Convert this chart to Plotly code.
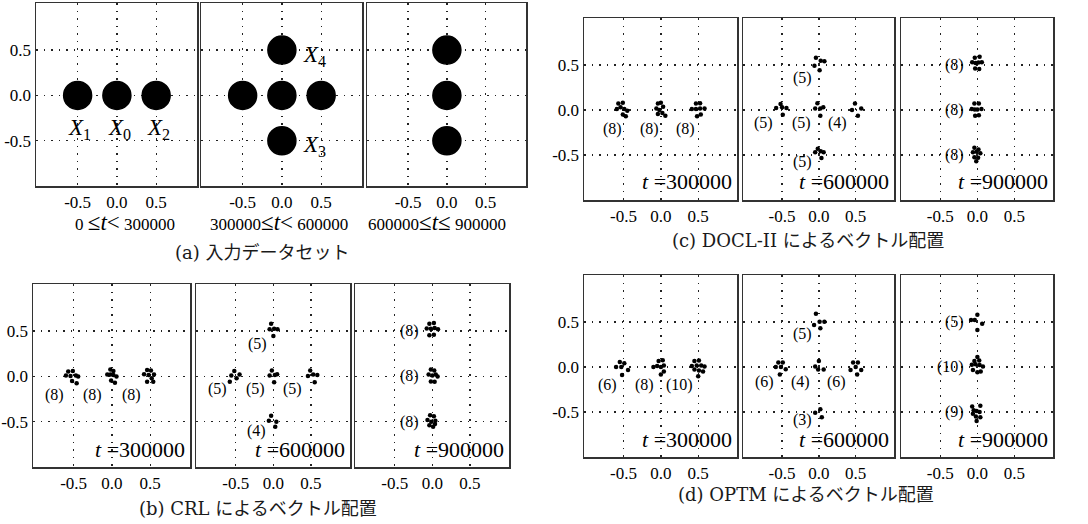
import plotly.graph_objects as go

W, H = 1088, 524

# ---------------- data ----------------
TICK_VALS = [-0.5, 0.0, 0.5]
TICK_TEXT = ["-0.5", "0.0", "0.5"]

# (a) input data set: centres of the dense input clusters
A1_CX = [-0.5, 0.0, 0.5]
A1_CY = [0.0, 0.0, 0.0]
A1_NAMES = ["1", "0", "2"]
A2_CX = [0.0, -0.5, 0.0, 0.5, 0.0]
A2_CY = [0.5, 0.0, 0.0, 0.0, -0.5]
A2_NAMES = ["4", "", "", "", "3"]
A3_CX = [0.0, 0.0, 0.0]
A3_CY = [0.5, 0.0, -0.5]
A_RANGES = [
    "0 <span style='font-size:23px'>≤<i>t</i>&lt;</span> 300000",
    "300000<span style='font-size:23px'>≤<i>t</i>&lt;</span> 600000",
    "600000<span style='font-size:23px'>≤<i>t</i>≤</span> 900000",
]

T_LABELS = ["300000", "600000", "900000"]

# (b) CRL
B1_X = [[-0.57, -0.51, -0.60, -0.54, -0.47, -0.44, -0.52, -0.46],
        [-0.02, 0.02, -0.06, -0.02, 0.02, 0.06, -0.01, 0.04],
        [0.46, 0.51, 0.42, 0.48, 0.55, 0.52, 0.46, 0.54]]
B1_Y = [[0.055, 0.06, 0.01, 0.005, 0.01, 0.0, -0.05, -0.075],
        [0.075, 0.06, 0.02, 0.02, 0.015, 0.0, -0.045, -0.07],
        [0.07, 0.065, 0.025, 0.015, 0.02, -0.02, -0.06, -0.06]]
B2_X = [[-0.03, -0.05, 0.01, 0.055, 0.0],
        [-0.52, -0.56, -0.45, -0.49, -0.58],
        [-0.02, -0.05, 0.02, 0.05, 0.01],
        [0.49, 0.46, 0.53, 0.585, 0.55],
        [-0.03, -0.06, 0.04, 0.025]]
B2_Y = [[0.58, 0.52, 0.525, 0.52, 0.445],
        [0.06, 0.01, 0.02, -0.02, -0.06],
        [0.065, 0.01, 0.015, 0.025, -0.065],
        [0.065, 0.005, 0.02, 0.015, -0.065],
        [-0.433, -0.49, -0.5, -0.555]]
B3_X = [[-0.04, 0.02, -0.075, -0.02, 0.03, 0.075, -0.04, 0.02],
        [-0.02, 0.025, -0.05, 0.0, 0.045, 0.07, -0.02, 0.03],
        [-0.03, 0.02, -0.065, -0.015, 0.04, -0.04, 0.01, 0.035]]
B3_Y = [[0.58, 0.59, 0.53, 0.525, 0.535, 0.52, 0.455, 0.46],
        [0.075, 0.065, 0.02, 0.01, 0.02, 0.0, -0.055, -0.06],
        [-0.43, -0.44, -0.48, -0.5, -0.49, -0.54, -0.555, -0.525]]

# (c) DOCL-II
C1_X = [[-0.57, -0.51, -0.59, -0.54, -0.49, -0.45, -0.51, -0.47],
        [-0.04, 0.0, -0.06, -0.02, 0.03, -0.04, 0.02, 0.06],
        [0.47, 0.525, 0.415, 0.47, 0.525, 0.585, 0.485, 0.535]]
C1_Y = [[0.07, 0.08, 0.01, 0.03, 0.01, -0.01, -0.05, -0.07],
        [0.07, 0.08, 0.015, 0.0, 0.035, -0.045, -0.035, -0.065],
        [0.07, 0.075, 0.01, 0.01, 0.015, 0.015, -0.07, -0.05]]
C2_X = [[-0.04, 0.025, 0.075, -0.06, 0.01],
        [-0.52, -0.58, -0.5, -0.44, -0.49],
        [-0.02, -0.05, 0.02, 0.06, 0.02],
        [0.49, 0.45, 0.575, 0.53],
        [-0.015, -0.05, 0.025, 0.065, 0.035]]
C2_Y = [[0.58, 0.545, 0.54, 0.49, 0.44],
        [0.065, 0.02, 0.03, 0.02, -0.055],
        [0.075, 0.015, 0.015, 0.03, -0.065],
        [0.07, 0.0, 0.015, -0.065],
        [-0.43, -0.47, -0.46, -0.47, -0.535]]
C3_X = [[-0.035, 0.03, -0.07, -0.025, 0.015, 0.06, -0.03, 0.025],
        [-0.04, 0.02, -0.075, -0.035, 0.0, 0.055, -0.03, 0.02],
        [-0.04, 0.015, -0.06, -0.01, 0.04, -0.04, 0.01, -0.015]]
C3_Y = [[0.58, 0.59, 0.53, 0.52, 0.525, 0.53, 0.46, 0.455],
        [0.07, 0.07, 0.01, 0.005, 0.005, 0.01, -0.065, -0.06],
        [-0.42, -0.44, -0.47, -0.465, -0.48, -0.525, -0.53, -0.57]]

# (d) OPTM
D1_X = [[-0.55, -0.49, -0.6, -0.53, -0.44, -0.52],
        [-0.03, 0.025, -0.1, -0.05, 0.0, 0.04, 0.04, 0.0],
        [0.45, 0.51, 0.415, 0.48, 0.54, 0.585, 0.45, 0.51, 0.565, 0.5]]
D1_Y = [[0.055, 0.04, 0.0, 0.0, -0.035, -0.09],
        [0.065, 0.075, 0.0, 0.01, 0.0, 0.015, -0.05, -0.085],
        [0.065, 0.07, 0.01, 0.015, 0.015, 0.005, -0.03, -0.04, -0.05, -0.105]]
D2_X = [[-0.04, -0.065, 0.01, 0.075, 0.02],
        [-0.55, -0.49, -0.585, -0.515, -0.45, -0.53],
        [0.0, -0.05, -0.01, 0.065],
        [0.465, 0.53, 0.43, 0.5, 0.575, 0.52],
        [0.02, -0.05, 0.04]]
D2_Y = [[0.59, 0.465, 0.5, 0.5, 0.43],
        [0.05, 0.05, 0.0, 0.0, -0.025, -0.085],
        [0.065, 0.005, -0.03, -0.03],
        [0.05, 0.05, -0.035, 0.0, -0.035, -0.085],
        [-0.47, -0.51, -0.56]]
D3_X = [[0.0, -0.085, -0.035, 0.065, 0.0],
        [0.0, -0.04, 0.025, -0.075, -0.025, 0.03, 0.075, -0.06, 0.0, 0.045],
        [-0.07, 0.04, -0.05, -0.01, 0.03, -0.06, -0.02, 0.04, -0.01]]
D3_Y = [[0.58, 0.52, 0.52, 0.48, 0.41],
        [0.11, 0.065, 0.07, 0.025, 0.03, 0.02, 0.005, -0.035, -0.06, -0.05],
        [-0.44, -0.43, -0.48, -0.49, -0.5, -0.52, -0.55, -0.56, -0.6]]

# nominal cluster centres used to place the "(n)" counts
CEN_1 = [(-0.5, 0.0), (0.0, 0.0), (0.5, 0.0)]
CEN_2 = [(0.0, 0.5), (-0.5, 0.0), (0.0, 0.0), (0.5, 0.0), (0.0, -0.5)]
CEN_3 = [(0.0, 0.5), (0.0, 0.0), (0.0, -0.5)]

CAPTIONS = ["(a) 入力データセット", "(b) CRL によるベクトル配置",
            "(c) DOCL-II によるベクトル配置", "(d) OPTM によるベクトル配置"]

# ---------------- layout / style ----------------
SERIF = "Liberation Serif"
CAP_FONT = "DejaVu Serif, Noto Sans CJK JP"
XR = [-1.03, 1.02]
YR = [-1.0, 1.02]

GROUPS = {
    "a": dict(xs=[(36, 197), (201, 362), (367, 526)], y=(3, 186)),
    "b": dict(xs=[(33, 190), (196, 350), (355, 509)], y=(284, 467)),
    "c": dict(xs=[(584, 737), (743, 894), (901, 1053)], y=(18, 200)),
    "d": dict(xs=[(584, 737), (743, 894), (901, 1053)], y=(275, 457)),
}

fig = go.Figure()
layout = dict(
    width=W, height=H, margin=dict(l=0, r=0, t=0, b=0),
    paper_bgcolor="white", plot_bgcolor="white", showlegend=False,
)
annotations = []
idx = 0
panel_axes = {}

for g, spec in GROUPS.items():
    y0, y1 = spec["y"]
    for col, (x0, x1) in enumerate(spec["xs"]):
        idx += 1
        sfx = "" if idx == 1 else str(idx)
        panel_axes[(g, col)] = ("x" + sfx, "y" + sfx, x0, x1, y0, y1)
        common = dict(
            showgrid=True, gridcolor="#222", gridwidth=1.3, griddash="1.5px,6px",
            showline=True, linecolor="#333", linewidth=1.5, mirror=True,
            zeroline=False, tickvals=TICK_VALS, ticktext=TICK_TEXT,
            ticks="",
            tickfont=dict(family=SERIF, size=17, color="black"),
            fixedrange=True,
        )
        layout["xaxis" + sfx] = dict(common, domain=[x0 / W, x1 / W],
                                     anchor="y" + sfx, range=XR)
        layout["yaxis" + sfx] = dict(common, domain=[1 - y1 / H, 1 - y0 / H],
                                     anchor="x" + sfx, range=YR,
                                     showticklabels=(col == 0))


def dots(g, col, XS, YS, centres, lab_dx, lab_dy):
    xa, ya, *_ = panel_axes[(g, col)]
    allx = [v for c in XS for v in c]
    ally = [v for c in YS for v in c]
    fig.add_trace(go.Scatter(x=allx, y=ally, mode="markers", xaxis=xa, yaxis=ya,
                             marker=dict(size=4.5, color="black"),
                             hoverinfo="skip"))
    for k, (cx, cy) in enumerate(centres):
        dx, dy = lab_dx[k], lab_dy[k]
        annotations.append(dict(
            x=cx + dx, y=cy + dy, xref=xa, yref=ya, text="(%d)" % len(XS[k]),
            showarrow=False, xanchor="right", yanchor="middle",
            font=dict(family=SERIF, size=16, color="black")))


def time_label(g, col, txt):
    xa, ya, x0, x1, y0, y1 = panel_axes[(g, col)]
    annotations.append(dict(
        x=(x1 - 3) / W, y=1 - (y1 - 18) / H, xref="paper", yref="paper",
        text="<i>t</i> =" + txt, showarrow=False, xanchor="right", yanchor="middle",
        font=dict(family=SERIF, size=22, color="black")))


# (a) dense input clusters
for col, (CX, CY) in enumerate([(A1_CX, A1_CY), (A2_CX, A2_CY), (A3_CX, A3_CY)]):
    xa, ya, *_ = panel_axes[("a", col)]
    fig.add_trace(go.Scatter(x=CX, y=CY, mode="markers", xaxis=xa, yaxis=ya,
                             marker=dict(size=28, color="black",
                                         line=dict(width=1.5, color="black")),
                             hoverinfo="skip"))

xa, ya, *_ = panel_axes[("a", 0)]
for cx, cy, n in zip(A1_CX, A1_CY, A1_NAMES):
    annotations.append(dict(x=cx + 0.03, y=cy - 0.37, xref=xa, yref=ya,
                            text="<i>X</i><sub>%s</sub>" % n, showarrow=False,
                            xanchor="center", yanchor="middle",
                            font=dict(family=SERIF, size=23, color="black")))
xa, ya, *_ = panel_axes[("a", 1)]
for cx, cy, n in zip(A2_CX, A2_CY, A2_NAMES):
    if n:
        annotations.append(dict(x=cx + 0.42, y=cy - 0.06, xref=xa, yref=ya,
                                text="<i>X</i><sub>%s</sub>" % n, showarrow=False,
                                xanchor="center", yanchor="middle",
                                font=dict(family=SERIF, size=23, color="black")))
for col, txt in enumerate(A_RANGES):
    _, _, x0, x1, y0, y1 = panel_axes[("a", col)]
    annotations.append(dict(x=((x0 + x1) / 2 + [8, -3, -10][col]) / W,
                            y=1 - 222 / H, xref="paper", yref="paper", text=txt,
                            showarrow=False, xanchor="center", yanchor="middle",
                            font=dict(family=SERIF, size=17, color="black")))

# (b)
dots("b", 0, B1_X, B1_Y, CEN_1, [-0.1] * 3, [-0.21] * 3)
dots("b", 1, B2_X, B2_Y, CEN_2, [-0.06, -0.09, -0.08, -0.09, -0.07],
     [-0.14, -0.14, -0.14, -0.14, -0.1])
dots("b", 2, B3_X, B3_Y, CEN_3, [-0.15] * 3, [0.0] * 3)
# (c)
dots("c", 0, C1_X, C1_Y, CEN_1, [0.0, -0.0, -0.02], [-0.21] * 3)
dots("c", 1, C2_X, C2_Y, CEN_2, [-0.06, -0.09, -0.08, -0.09, -0.07],
     [-0.15, -0.14, -0.14, -0.14, -0.08])
dots("c", 2, C3_X, C3_Y, CEN_3, [-0.15] * 3, [0.0] * 3)
# (d)
dots("d", 0, D1_X, D1_Y, CEN_1, [-0.06, -0.07, -0.04], [-0.2] * 3)
dots("d", 1, D2_X, D2_Y, CEN_2, [-0.06, -0.085, -0.09, -0.1, -0.07],
     [-0.13, -0.17, -0.17, -0.17, -0.09])
dots("d", 2, D3_X, D3_Y, CEN_3, [-0.16, -0.15, -0.15], [0.0] * 3)

for g in "bcd":
    for col, txt in enumerate(T_LABELS):
        time_label(g, col, txt)

CAP_POS = [(262, 252), (258, 508), (808, 241), (806, 494)]
for txt, (cx, cy) in zip(CAPTIONS, CAP_POS):
    annotations.append(dict(x=cx / W, y=1 - cy / H, xref="paper", yref="paper",
                            text=txt, showarrow=False, xanchor="center",
                            yanchor="middle",
                            font=dict(family=CAP_FONT, size=18, color="#1a1a1a")))

layout["annotations"] = annotations
fig.update_layout(**layout)
fig.write_html("out.html",
               config={"displayModeBar": False, "staticPlot": True},
               post_script="document.body.style.margin='0';"
                           "document.body.style.overflow='hidden';")
